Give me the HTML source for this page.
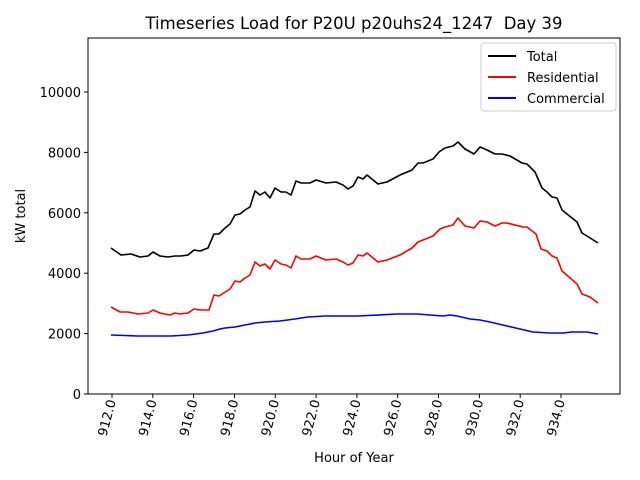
<!DOCTYPE html>
<html><head><style>body{margin:0;background:#fff}svg{display:block}text{font-family:"DejaVu Sans","Liberation Sans",sans-serif;fill:#000}</style></head>
<body>
<svg width="640" height="480" viewBox="0 0 640 480" xmlns="http://www.w3.org/2000/svg">
<rect width="640" height="480" fill="#fff"/>
<text x="354" y="29" font-size="16.5" text-anchor="middle">Timeseries Load for P20U p20uhs24_1247 &#160;Day 39</text>
<g fill="none" stroke-width="1.6" stroke-linejoin="round">
<polyline stroke="#000" points="111,248 121,255 131,254 140,257 148,256 153,252 160,256 168,257 175,256 181,256 188,255 194,250 200,251 208,248 214,234 219,234 225,228 230,224 235,215 240,214 245,210 250,207 255,191 260,195 265,192 270,198 275,188 281,192 286,192 291,195 296,181 301,183 310,183 316,180 326,183 336,182 343,185 348,189 353,186 358,177 363,179 367,175 378,184 387,182 400,175 412,170 418,163 423,163 433,159 439,152 445,148 453,146 458,142 465,149 474,154 480,147 487,150 495,154 502,154 510,156 522,163 527,164 535,172 542,188 547,192 552,197 557,198 562,210 577,222 582,233 587,236 598,243"/>
<polyline stroke="#f00" points="111,307 120,312 128,312 138,314 148,313 153,310 160,313 170,315 175,313 180,314 188,313 194,309 200,310 209,310 214,295 219,296 230,289 235,281 240,282 245,278 250,275 255,262 260,266 265,264 270,269 275,260 281,264 286,265 291,268 296,256 301,259 310,259 316,256 326,260 336,259 343,262 348,265 353,263 358,255 363,256 367,253 378,262 387,260 400,255 412,248 418,242 433,236 440,229 445,227 453,225 458,218 465,226 474,228 480,221 487,222 495,226 502,223 507,223 523,227 527,227 536,234 541,249 547,251 552,256 557,258 562,271 577,284 582,294 590,297 598,303"/>
<polyline stroke="#00f" points="111,335 138,336 171,336 188,335 203,333 213,331 220,329 225,328 235,327 245,325 255,323 265,322 280,321 295,319 308,317 325,316 341,316 358,316 397,314 417,314 443,316 450,315 457,316 470,319 480,320 490,322 507,326 520,329 533,332 550,333 563,333 572,332 587,332 598,334"/>
</g>
<rect x="88" y="38" width="532" height="356" fill="none" stroke="#000" stroke-width="1"/>
<g stroke="#000" stroke-width="1">
<line x1="84" y1="394" x2="88" y2="394"/><line x1="84" y1="333.6" x2="88" y2="333.6"/><line x1="84" y1="273.2" x2="88" y2="273.2"/><line x1="84" y1="212.8" x2="88" y2="212.8"/><line x1="84" y1="152.4" x2="88" y2="152.4"/><line x1="84" y1="92" x2="88" y2="92"/>
<line x1="112" y1="394" x2="112" y2="398"/><line x1="152.8" y1="394" x2="152.8" y2="398"/><line x1="193.6" y1="394" x2="193.6" y2="398"/><line x1="234.5" y1="394" x2="234.5" y2="398"/><line x1="275.3" y1="394" x2="275.3" y2="398"/><line x1="316.1" y1="394" x2="316.1" y2="398"/><line x1="356.9" y1="394" x2="356.9" y2="398"/><line x1="397.7" y1="394" x2="397.7" y2="398"/><line x1="438.5" y1="394" x2="438.5" y2="398"/><line x1="479.4" y1="394" x2="479.4" y2="398"/><line x1="520.2" y1="394" x2="520.2" y2="398"/><line x1="561" y1="394" x2="561" y2="398"/>
</g>
<g font-size="13" text-anchor="end">
<text x="81" y="399">0</text><text x="81" y="338.6">2000</text><text x="81" y="278.2">4000</text><text x="81" y="217.8">6000</text><text x="81" y="157.4">8000</text><text x="81" y="97">10000</text>
</g>
<g font-size="13" text-anchor="end">
<text transform="translate(116,401) rotate(-75)">912.0</text>
<text transform="translate(156.8,401) rotate(-75)">914.0</text>
<text transform="translate(197.6,401) rotate(-75)">916.0</text>
<text transform="translate(238.5,401) rotate(-75)">918.0</text>
<text transform="translate(279.3,401) rotate(-75)">920.0</text>
<text transform="translate(320.1,401) rotate(-75)">922.0</text>
<text transform="translate(360.9,401) rotate(-75)">924.0</text>
<text transform="translate(401.7,401) rotate(-75)">926.0</text>
<text transform="translate(442.5,401) rotate(-75)">928.0</text>
<text transform="translate(483.4,401) rotate(-75)">930.0</text>
<text transform="translate(524.2,401) rotate(-75)">932.0</text>
<text transform="translate(565,401) rotate(-75)">934.0</text>
</g>
<text x="354" y="462" font-size="13" text-anchor="middle">Hour of Year</text>
<text transform="translate(25,216) rotate(-90)" font-size="13" text-anchor="middle">kW total</text>
<rect x="481" y="43" width="135" height="68" rx="3" fill="#fff" stroke="#ccc"/>
<g stroke-width="2"><line x1="488" y1="56" x2="516" y2="56" stroke="#000"/><line x1="488" y1="77" x2="516" y2="77" stroke="#f00"/><line x1="488" y1="98" x2="516" y2="98" stroke="#00f"/></g>
<g font-size="13"><text x="527" y="61">Total</text><text x="527" y="82">Residential</text><text x="527" y="103">Commercial</text></g>
</svg>
</body></html>
